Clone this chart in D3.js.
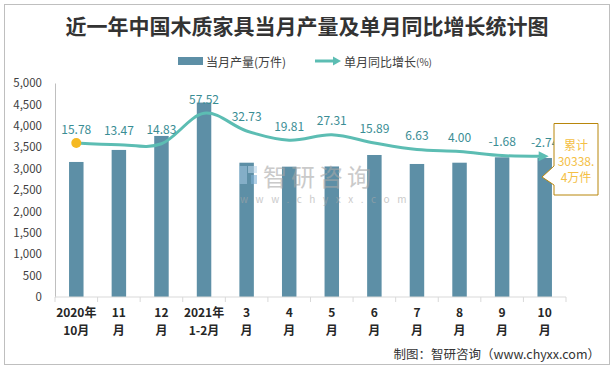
<!DOCTYPE html>
<html><head><meta charset="utf-8">
<script src="https://cdn.jsdelivr.net/npm/d3@7"></script>
<style>
body{margin:0;background:#fff;}
svg{display:block;font-family:"Noto Sans CJK SC","Microsoft YaHei",sans-serif;}
</style></head>
<body><svg id="c" width="614" height="368"></svg>
<script>
const categories = ["2020年|10月","11|月","12|月","2021年|1-2月","3|月","4|月","5|月","6|月","7|月","8|月","9|月","10|月"];
const output = [3155,3436,3763,4543,3138,3045,3050,3318,3108,3138,3264,3248];
const growth = [15.78,13.47,14.83,57.52,32.73,19.81,27.31,15.89,6.63,4.00,-1.68,-2.74];
const yTicks = [0,500,1000,1500,2000,2500,3000,3500,4000,4500,5000];
const title = "近一年中国木质家具当月产量及单月同比增长统计图";
const legendBar = "当月产量(万件)";
const legendLine = "单月同比增长";
const calloutLines = ["累计","30338.","4万件"];
const footer = "制图：智研咨询（www.chyxx.com）";

const svg = d3.select("#c");
const m={l:55,r:566,t:83,b:297};
const barColor="#5d8fa6", lineColor="#5cbdb3", labelColor="#3a8d94";

svg.append("rect").attr("x",4.5).attr("y",4.5).attr("width",605).attr("height",360)
  .attr("fill","#fff").attr("stroke","#bfbfbf").attr("stroke-width",1);

svg.append("text").attr("x",307).attr("y",25).attr("text-anchor","middle").attr("dominant-baseline","central")
  .attr("font-size",21).attr("font-weight","bold").attr("fill","#333").text(title);

// legend
const lg=svg.append("g");
lg.append("rect").attr("x",178).attr("y",57).attr("width",25).attr("height",8).attr("fill",barColor);
lg.append("text").attr("x",206).attr("y",61).attr("dominant-baseline","central").attr("font-size",12).attr("fill","#404040").text(legendBar);
lg.append("line").attr("x1",315).attr("x2",335).attr("y1",61).attr("y2",61).attr("stroke",lineColor).attr("stroke-width",3);
lg.append("path").attr("d","M333,56.5L341,61L333,65.5Z").attr("fill",lineColor);
const lt=lg.append("text").attr("x",344).attr("y",61).attr("dominant-baseline","central").attr("font-size",12).attr("fill","#404040").text(legendLine);
lt.append("tspan").attr("font-size",10).text("(%)");

const x=d3.scaleBand().domain(categories).range([m.l,m.r]).paddingInner(0.66).paddingOuter(0.33);
const xb=d3.scaleBand().domain(categories).range([m.l,m.r]);
const y=d3.scaleLinear().domain([0,5000]).range([m.b,m.t]);
const y2=d3.scaleLinear().domain([-200,100]).range([m.b,m.t]);

// y axis
const ya=svg.append("g").attr("transform",`translate(${m.l},0)`)
  .call(d3.axisLeft(y).tickValues(yTicks).tickSize(0).tickPadding(13).tickFormat(d3.format(",")));
ya.select(".domain").attr("stroke","#bfbfbf");
ya.selectAll("text").attr("font-size",11.5).attr("fill","#404040").attr("font-family","'Noto Sans CJK SC',sans-serif");

// bars
svg.append("g").selectAll("rect").data(output).join("rect")
  .attr("x",(d,i)=>x(categories[i])).attr("width",x.bandwidth())
  .attr("y",d=>y(d)).attr("height",d=>y(0)-y(d)).attr("fill",barColor);

// watermark (on top, translucent)
const wm=svg.append("g").attr("opacity",0.6);
wm.append("rect").attr("x",239).attr("y",166).attr("width",8).attr("height",18).attr("fill","#9ec3dd");
wm.append("rect").attr("x",248).attr("y",166).attr("width",9).attr("height",7).attr("fill","#b9d4e8");
wm.append("rect").attr("x",251).attr("y",175).attr("width",6).attr("height",9).attr("fill","#7fb1d6");
wm.append("text").attr("x",263).attr("y",175).attr("dominant-baseline","central").attr("font-size",24).attr("fill","#a8a8a8").attr("letter-spacing",4).text("智研咨询");
wm.append("text").attr("x",240).attr("y",198).attr("dominant-baseline","central").attr("font-size",10).attr("fill","#a8a8a8").attr("letter-spacing",7.6).text("www.chyxx.com");

// x axis
const xa=svg.append("g").attr("transform",`translate(0,${m.b})`);
xa.append("line").attr("x1",m.l).attr("x2",m.r).attr("stroke","#d9d9d9");
xa.selectAll("line.t").data(d3.range(categories.length+1)).join("line").attr("class","t")
  .attr("x1",i=>m.l+i*xb.step()).attr("x2",i=>m.l+i*xb.step()).attr("y1",0).attr("y2",5).attr("stroke","#d9d9d9");
xa.selectAll("text").data(categories).join("text")
  .attr("x",d=>xb(d)+xb.bandwidth()/2).attr("y",16).attr("text-anchor","middle")
  .attr("font-size",12).attr("font-weight","bold").attr("fill","#262626")
  .each(function(d){
    const p=d.split("|"); const t=d3.select(this);
    t.append("tspan").attr("x",xb(d)+xb.bandwidth()/2).attr("dy",4).text(p[0]);
    t.append("tspan").attr("x",xb(d)+xb.bandwidth()/2).attr("dy",18).text(p[1]);
  });

// line
const cx=(i)=>xb(categories[i])+xb.bandwidth()/2;
const line=d3.line().x((d,i)=>cx(i)).y(d=>y2(d)).curve(d3.curveCardinal.tension(0));
svg.append("path").datum(growth).attr("d",line).attr("fill","none").attr("stroke",lineColor).attr("stroke-width",3);
const n=growth.length-1;
const ex=cx(n), ey=y2(growth[n]);
svg.append("path").attr("d",`M${ex+4},${ey}L${ex-6},${ey-5}L${ex-6},${ey+5}Z`).attr("fill",lineColor);
svg.append("circle").attr("cx",cx(0)).attr("cy",y2(growth[0])).attr("r",5).attr("fill","#f5b922");

svg.append("g").selectAll("text").data(growth).join("text")
  .attr("x",(d,i)=>cx(i)).attr("y",d=>y2(d)-15).attr("text-anchor","middle").attr("dominant-baseline","central")
  .attr("font-size",12).attr("fill",labelColor).text(d=>d.toFixed(2));

// callout
const cg=svg.append("g");
cg.append("path").attr("d","M554,123.5L598,123.5L598,195L554,195L554,185L542,177L554,166Z")
  .attr("fill","#fff").attr("stroke","#b8860b").attr("stroke-width",1);
cg.selectAll("text").data(calloutLines).join("text").attr("x",576).attr("y",(d,i)=>144+i*16)
  .attr("text-anchor","middle").attr("dominant-baseline","central").attr("font-size",12).attr("fill","#f4c045").text(d=>d);

svg.append("text").attr("x",600).attr("y",353).attr("text-anchor","end").attr("dominant-baseline","central")
  .attr("font-size",12.5).attr("fill","#333").text(footer);
</script></body></html>
